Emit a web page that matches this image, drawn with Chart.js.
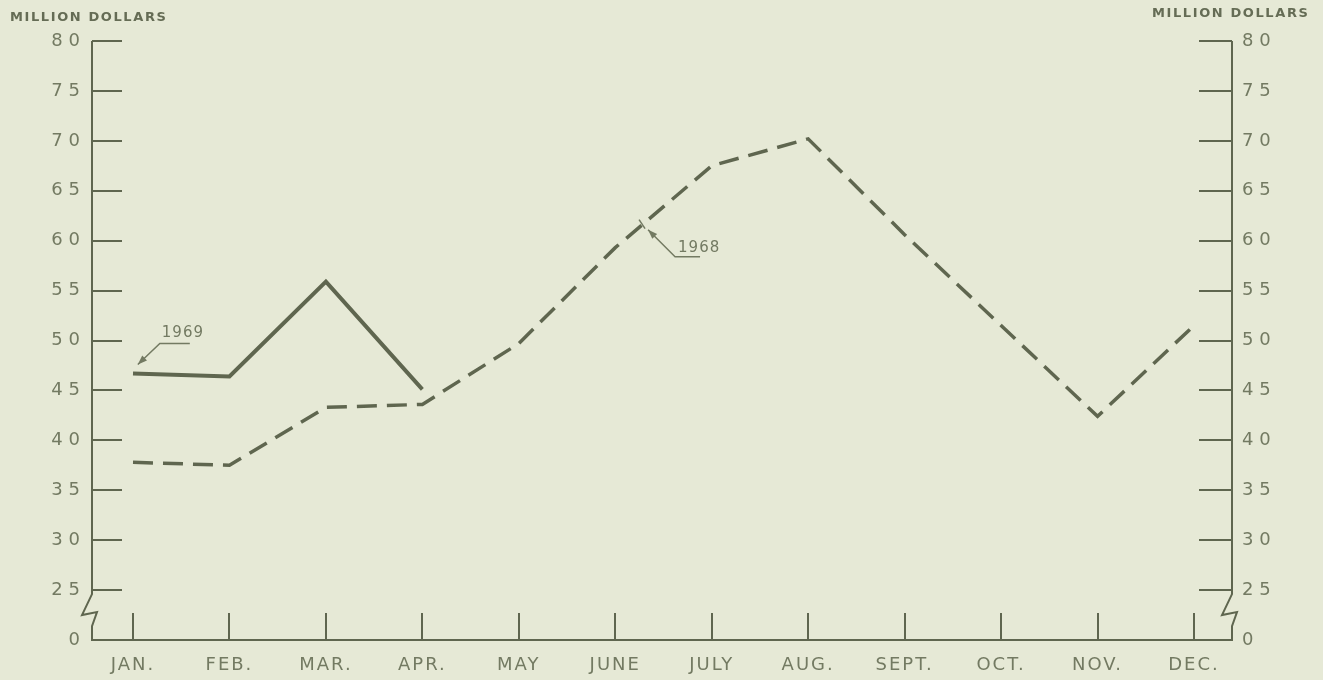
<!DOCTYPE html>
<html>
<head>
<meta charset="utf-8">
<script src="https://cdn.jsdelivr.net/npm/chart.js@4.4.1/dist/chart.umd.min.js"></script>
<style>
  html, body { margin: 0; padding: 0; background: #e6e9d6; }
  canvas { display: block; }
</style>
</head>
<body>
<canvas id="sales" width="1323" height="680"></canvas>
<script>
const MONTHS = ['JAN.', 'FEB.', 'MAR.', 'APR.', 'MAY', 'JUNE', 'JULY', 'AUG.', 'SEPT.', 'OCT.', 'NOV.', 'DEC.'];
const SALES_1969 = [46.7, 46.4, 55.9, 45.1];
const SALES_1968 = [37.8, 37.5, 43.3, 43.6, 49.7, 59.3, 67.5, 70.2, 60.6, 51.5, 42.4, 51.5];
// broken axis: the bottom tick (20) carries the "0" label
const Y_TICK_VALUES = [20, 25, 30, 35, 40, 45, 50, 55, 60, 65, 70, 75, 80];
const Y_TICK_LABELS = ['0', '25', '30', '35', '40', '45', '50', '55', '60', '65', '70', '75', '80'];

const INK = '#5f664f';
const TXT = '#737a62';
const FONT = 'DejaVu Sans';

const toPoints = arr => arr.map((v, i) => ({ x: i + 1, y: v }));
const spaced = s => s.split('').join('\u200A');

function yAxis(position) {
  const left = position === 'left';
  return {
    type: 'linear',
    position,
    min: 20,
    max: 80,
    afterBuildTicks: s => { s.ticks = Y_TICK_VALUES.map(v => ({ value: v })); },
    afterFit: s => {
      s.width = left ? 92 : 91;
      s.paddingTop = 0;
      s.paddingBottom = 0;
    },
    border: { display: false },
    grid: { drawOnChartArea: false, tickLength: left ? -30 : -33, color: INK, lineWidth: 2 },
    ticks: {
      color: TXT,
      font: { family: FONT, size: 18 },
      padding: left ? 40 : 43,
      callback: v => spaced(Y_TICK_LABELS[Y_TICK_VALUES.indexOf(v)] || '')
    }
  };
}

function arrowHead(ctx, fx, fy, tx, ty) {
  const a = Math.atan2(ty - fy, tx - fx);
  ctx.beginPath();
  ctx.moveTo(tx, ty);
  ctx.lineTo(tx - 10 * Math.cos(a - 0.35), ty - 10 * Math.sin(a - 0.35));
  ctx.lineTo(tx - 10 * Math.cos(a + 0.35), ty - 10 * Math.sin(a + 0.35));
  ctx.closePath();
  ctx.fill();
}

function brokenAxis(ctx, x, top, y25, bottom) {
  ctx.beginPath();
  ctx.moveTo(x, top);
  ctx.lineTo(x, y25 + 4);
  ctx.lineTo(x - 10, y25 + 25);
  ctx.lineTo(x + 5, y25 + 22);
  ctx.lineTo(x, y25 + 36);
  ctx.lineTo(x, bottom);
  ctx.stroke();
}

const paper = {
  id: 'paper',
  beforeDraw(chart) {
    chart.ctx.letterSpacing = '2px';
  },
  afterDraw(chart) {
    const ctx = chart.ctx;
    const area = chart.chartArea;
    const xs = chart.scales.x;
    const ys = chart.scales.y;
    ctx.save();
    ctx.strokeStyle = INK;
    ctx.fillStyle = INK;
    ctx.lineWidth = 2;
    ctx.lineJoin = 'miter';
    brokenAxis(ctx, area.left, area.top, ys.getPixelForValue(25), area.bottom);
    brokenAxis(ctx, area.right, area.top, ys.getPixelForValue(25), area.bottom);

    // unit titles
    ctx.fillStyle = '#656c55';
    ctx.font = 'bold 13px ' + FONT;
    ctx.letterSpacing = '1.6px';
    ctx.textBaseline = 'alphabetic';
    ctx.textAlign = 'left';
    ctx.fillText('MILLION DOLLARS', 10, 21);
    ctx.fillText('MILLION DOLLARS', 1152, 17);

    // series labels with leader arrows
    ctx.strokeStyle = TXT;
    ctx.fillStyle = TXT;
    ctx.lineWidth = 1.5;
    ctx.font = '15px ' + FONT;
    ctx.letterSpacing = '1px';

    let tx = xs.getPixelForValue(1.05), ty = ys.getPixelForValue(47.6);
    ctx.beginPath();
    ctx.moveTo(tx + 52, ty - 21);
    ctx.lineTo(tx + 22, ty - 21);
    ctx.lineTo(tx, ty);
    ctx.stroke();
    arrowHead(ctx, tx + 22, ty - 21, tx, ty);
    ctx.fillText('1969', tx + 24, ty - 27);

    tx = xs.getPixelForValue(6.34); ty = ys.getPixelForValue(61.1);
    ctx.beginPath();
    ctx.moveTo(tx + 52, ty + 27);
    ctx.lineTo(tx + 27, ty + 27);
    ctx.lineTo(tx, ty);
    ctx.stroke();
    arrowHead(ctx, tx + 27, ty + 27, tx, ty);
    ctx.beginPath();
    ctx.moveTo(tx - 9, ty - 10);
    ctx.lineTo(tx - 3, ty - 1);
    ctx.stroke();
    ctx.fillText('1968', tx + 30, ty + 22);
    ctx.restore();
  }
};

new Chart(document.getElementById('sales'), {
  type: 'line',
  data: {
    datasets: [{
      label: '1969',
      data: toPoints(SALES_1969),
      borderColor: INK,
      borderWidth: 4,
      pointRadius: 0,
      fill: false
    }, {
      label: '1968',
      data: toPoints(SALES_1968),
      borderColor: INK,
      borderWidth: 3.5,
      borderDash: [20, 10],
      pointRadius: 0,
      fill: false
    }]
  },
  options: {
    responsive: false,
    animation: false,
    layout: { padding: { top: 41, left: 0, right: 0, bottom: 0 } },
    plugins: {
      legend: { display: false },
      tooltip: { enabled: false }
    },
    scales: {
      x: {
        type: 'linear',
        min: 0.575,
        max: 12.394,
        afterFit: s => {
          s.height = 40;
          s.paddingLeft = 0;
          s.paddingRight = 0;
        },
        border: { display: true, color: INK, width: 2 },
        grid: { drawOnChartArea: false, tickLength: -27, color: INK, lineWidth: 2 },
        ticks: {
          stepSize: 1,
          includeBounds: false,
          autoSkip: false,
          maxRotation: 0,
          color: TXT,
          font: { family: FONT, size: 18 },
          padding: 42,
          callback: v => MONTHS[v - 1] || ''
        }
      },
      y: yAxis('left'),
      y2: yAxis('right')
    }
  },
  plugins: [paper]
});
</script>
</body>
</html>
